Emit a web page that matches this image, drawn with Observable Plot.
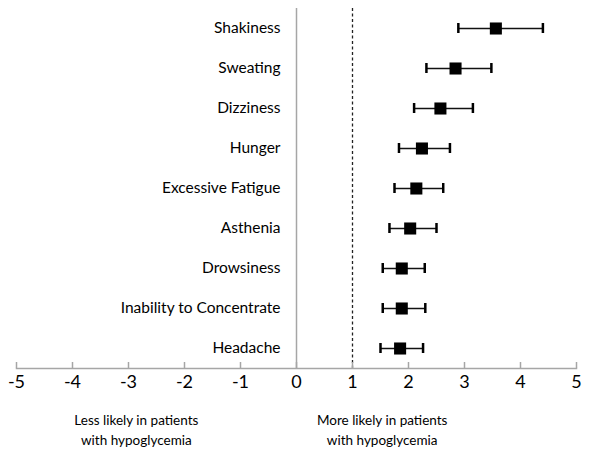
<!DOCTYPE html>
<html>
<head>
<meta charset="utf-8">
<script src="https://cdn.jsdelivr.net/npm/d3@7"></script>
<script src="https://cdn.jsdelivr.net/npm/@observablehq/plot@0.6"></script>
<style>
  html, body { margin: 0; padding: 0; background: #fff; }
  svg { display: block; }
</style>
</head>
<body>
<div id="chart"></div>
<script>
const symptoms = ["Shakiness", "Sweating", "Dizziness", "Hunger", "Excessive Fatigue", "Asthenia", "Drowsiness", "Inability to Concentrate", "Headache"];
const estimate = [3.56, 2.84, 2.57, 2.24, 2.14, 2.03, 1.88, 1.88, 1.85];
const lower    = [2.89, 2.32, 2.10, 1.83, 1.75, 1.66, 1.54, 1.54, 1.50];
const upper    = [4.40, 3.48, 3.15, 2.74, 2.62, 2.50, 2.29, 2.30, 2.26];
const xTicks = [-5, -4, -3, -2, -1, 0, 1, 2, 3, 4, 5];
const noteText = ["Less likely in patients\nwith hypoglycemia", "More likely in patients\nwith hypoglycemia"];
const noteX = [-2.86, 1.53];

const rows = symptoms.map((s, i) => ({name: s, est: estimate[i], lo: lower[i], hi: upper[i]}));
const notes = noteText.map((t, i) => ({text: t, x: noteX[i]}));

const font = "Lato, 'Open Sans', sans-serif";

const chart = Plot.plot({
  width: 600,
  height: 458,
  marginLeft: 16,
  marginRight: 24,
  marginTop: 8,
  marginBottom: 90,
  style: {fontFamily: font, background: "#fff", color: "#000"},
  x: {domain: [-5, 5], ticks: xTicks, tickFormat: d => d < 0 ? "-" + Math.abs(d) : String(d)},
  y: {domain: symptoms, axis: null, padding: 0},
  marks: [
    Plot.ruleX([0], {stroke: "#a6a6a6", strokeWidth: 1.5}),
    Plot.ruleX([1], {stroke: "#222", strokeWidth: 1.3, strokeDasharray: "3,2.5"}),
    Plot.frame({anchor: "bottom", stroke: "#a6a6a6", strokeWidth: 1.5}),
    Plot.ruleX(xTicks, {x: d => d, stroke: "#a6a6a6", strokeWidth: 1.5, insetTop: 354}),
    Plot.axisX({ticks: xTicks, tickSize: 0, tickPadding: 7, fontSize: 18, fontFamily: font, fill: "#000",
      tickFormat: d => d < 0 ? "-" + Math.abs(d) : String(d), label: null}),
    Plot.ruleY(rows, {y: "name", x1: "lo", x2: "hi", stroke: "#111", strokeWidth: 1.5}),
    Plot.tickX(rows, {x: "lo", y: "name", stroke: "#000", strokeWidth: 2.5, insetTop: 15, insetBottom: 15}),
    Plot.tickX(rows, {x: "hi", y: "name", stroke: "#000", strokeWidth: 2.5, insetTop: 15, insetBottom: 15}),
    Plot.dot(rows, {x: "est", y: "name", symbol: "square", r: 6.8, fill: "#000", stroke: "none"}),
    Plot.text(rows, {x: () => 0, y: "name", text: "name", dx: -16, textAnchor: "end", fontSize: 15.5, fontFamily: font, fill: "#000"}),
    Plot.text(notes, {x: "x", text: "text", frameAnchor: "bottom", lineAnchor: "top", dy: 42, fontSize: 13.5, lineHeight: 1.48, fontFamily: font, fill: "#000"})
  ]
});
document.getElementById("chart").appendChild(chart);
</script>
</body>
</html>
